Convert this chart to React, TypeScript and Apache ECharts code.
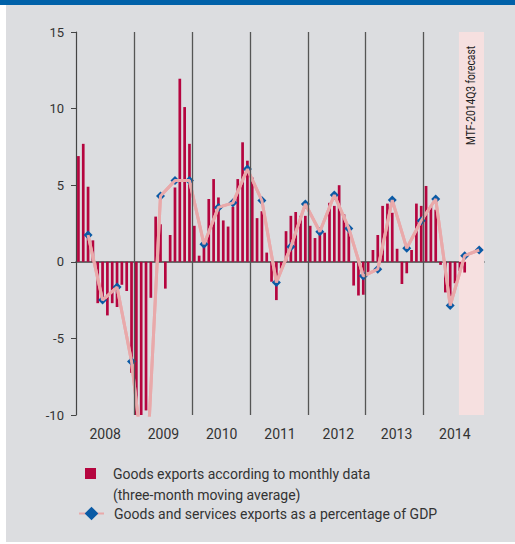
import React, { useEffect, useRef } from "react";
import * as echarts from "echarts";

// ---- data ----
const YEARS = ["2008", "2009", "2010", "2011", "2012", "2013", "2014"];

// Goods exports, monthly data (three-month moving average), % — Jan..Dec per year
const BARS_2008 = [6.9, 7.7, 4.9, 1.4, -2.7, -2.45, -3.5, -2.7, -2.95, -1.5, -1.9, -7.25];
const BARS_2009 = [-11.5, -12, -9.7, -2.35, 2.95, 2.45, -1.75, 1.75, 4.85, 11.95, 10.1, 7.7];
const BARS_2010 = [2.35, 0.4, 1.2, 4.1, 5.4, 4.2, 2.7, 2.3, 3.6, 5.4, 7.8, 6.6];
const BARS_2011 = [5.5, 2.85, 3.3, 0.6, -1.3, -2.5, -0.45, 2.0, 3.0, 3.25, 3.0, 3.0];
const BARS_2012 = [2.35, 1.55, 2.1, 1.9, 3.85, 3.65, 5.0, 3.1, 2.3, -1.55, -2.2, -2.15];
const BARS_2013 = [-0.7, 0.77, 1.75, 3.65, 3.8, 3.2, 0.85, -1.45, -0.75, 0.77, 3.8, 3.65];
const BARS_2014 = [4.95, 3.65, 3.4, -0.2, -2.0, -2.25, -1.4, -0.6, -0.7];

// Goods and services exports as a percentage of GDP — quarterly, 2008Q1..2014Q4
const GDP_2008 = [1.75, -2.5, -1.65, -6.5];
const GDP_2009 = [-14.5, 4.3, 5.3, 5.3];
const GDP_2010 = [1.15, 3.55, 3.85, 6.05];
const GDP_2011 = [4.0, -1.35, 0.98, 3.77];
const GDP_2012 = [1.96, 4.36, 2.18, -0.93];
const GDP_2013 = [-0.48, 4.03, 0.88, 2.68];
const GDP_2014 = [4.1, -2.85, 0.4, 0.77];

// forecast shading, in months counted from January 2008
const FORECAST_START = 79.3;
const FORECAST_END = 84.5;
const FORECAST_LABEL = "MTF-2014Q3 forecast";

const Y_MIN = -10;
const Y_MAX = 15;
const Y_STEP = 5;

const BAR_NAME = "Goods exports according to monthly data\n(three-month moving average)";
const LINE_NAME = "Goods and services exports as a percentage of GDP";

const FONT = 'Roboto, "Liberation Sans", Arial, sans-serif';
const RED = "#b5053f";
const BLUE = "#0a5aa5";
const PINK = "#e9a9aa";
const BG = "#dcdde0";
const AXIS = "#444444";
const TEXT = "#333333";

export default function App() {
  const ref = useRef<HTMLDivElement>(null);

  useEffect(() => {
    if (!ref.current) return;
    const chart = echarts.init(ref.current, null, { renderer: "svg" });

    const monthly = [
      ...BARS_2008, ...BARS_2009, ...BARS_2010, ...BARS_2011,
      ...BARS_2012, ...BARS_2013, ...BARS_2014,
    ];
    const quarterly = [
      ...GDP_2008, ...GDP_2009, ...GDP_2010, ...GDP_2011,
      ...GDP_2012, ...GDP_2013, ...GDP_2014,
    ];
    const barData = monthly.map((v, i) => [i + 0.5, v]);
    // quarterly point placed at the last month of its quarter
    const lineData = quarterly.map((v, q) => [q * 3 + 2.5, v]);
    const yearStarts = YEARS.slice(1).map((_, i) => (i + 1) * 12);

    chart.setOption({
      animation: false,
      backgroundColor: "#ffffff",
      textStyle: { fontFamily: FONT },
      graphic: [
        { type: "rect", z: -20, shape: { x: 0, y: 0, width: 515, height: 5 }, style: { fill: "#0061a9" } },
        { type: "rect", z: -20, shape: { x: 6, y: 5, width: 509, height: 537 }, style: { fill: BG } },
        {
          type: "text",
          z: 20,
          x: 471,
          y: 46,
          rotation: Math.PI / 2,
          scaleX: 0.85,
          style: {
            text: FORECAST_LABEL,
            align: "right",
            verticalAlign: "middle",
            fontSize: 12,
            fontFamily: FONT,
            fill: "#222222",
          },
        },
      ],
      grid: { left: 76, top: 32, width: 408, height: 383 },
      xAxis: [
        {
          type: "value",
          min: 0,
          max: FORECAST_END,
          axisLine: { show: true, onZero: true, lineStyle: { color: AXIS, width: 1.5 } },
          axisTick: { show: false },
          axisLabel: { show: false },
          splitLine: { show: false },
        },
        {
          type: "category",
          data: YEARS,
          position: "bottom",
          axisLine: { show: false, onZero: false },
          axisTick: { show: false },
          axisLabel: { fontSize: 14, color: TEXT, margin: 12, fontFamily: FONT },
          splitLine: { show: false },
        },
      ],
      yAxis: {
        type: "value",
        min: Y_MIN,
        max: Y_MAX,
        interval: Y_STEP,
        axisLine: { show: true, lineStyle: { color: AXIS, width: 1.2 } },
        axisTick: { show: true, length: 5, lineStyle: { color: AXIS } },
        axisLabel: { fontSize: 13, color: TEXT, margin: 12, fontFamily: FONT },
        splitLine: { show: false },
      },
      legend: [
        {
          data: [BAR_NAME],
          left: 85,
          top: 442,
          orient: "vertical",
          padding: 0,
          itemWidth: 11,
          itemHeight: 11,
          icon: "rect",
          selectedMode: false,
          formatter: (name: string) => "\n" + name,
          textStyle: {
            fontSize: 14,
            color: TEXT,
            fontFamily: FONT,
            lineHeight: 21,
            padding: [0, 0, 0, 12],
          },
        },
        {
          data: [LINE_NAME],
          left: 78,
          top: 506.5,
          orient: "vertical",
          padding: 0,
          itemWidth: 25,
          itemHeight: 17,
          selectedMode: false,
          textStyle: {
            fontSize: 14,
            color: TEXT,
            fontFamily: FONT,
            padding: [0, 0, 0, 5],
          },
        },
      ],
      series: [
        {
          name: BAR_NAME,
          type: "bar",
          xAxisIndex: 0,
          data: barData,
          barWidth: 2.7,
          itemStyle: { color: RED },
          markArea: {
            silent: true,
            itemStyle: { color: "#f6e0e0" },
            data: [[{ xAxis: FORECAST_START }, { xAxis: FORECAST_END }]],
          },
          markLine: {
            silent: true,
            symbol: ["none", "none"],
            label: { show: false },
            lineStyle: { color: "#555555", width: 1.3, type: "solid" },
            data: yearStarts.map((m) => ({ xAxis: m })),
          },
        },
        {
          name: LINE_NAME,
          type: "line",
          xAxisIndex: 0,
          data: lineData,
          symbol: "diamond",
          symbolSize: 9,
          itemStyle: { color: BLUE },
          lineStyle: { color: PINK, width: 3 },
          z: 3,
        },
        {
          name: "",
          type: "line",
          xAxisIndex: 0,
          data: lineData,
          symbol: "none",
          silent: true,
          lineStyle: { color: PINK, width: 3 },
          z: 4,
        },
      ],
    });

    return () => chart.dispose();
  }, []);

  return (
    <div
      ref={ref}
      style={{ position: "fixed", left: 0, top: 0, width: 515, height: 544 }}
    />
  );
}
